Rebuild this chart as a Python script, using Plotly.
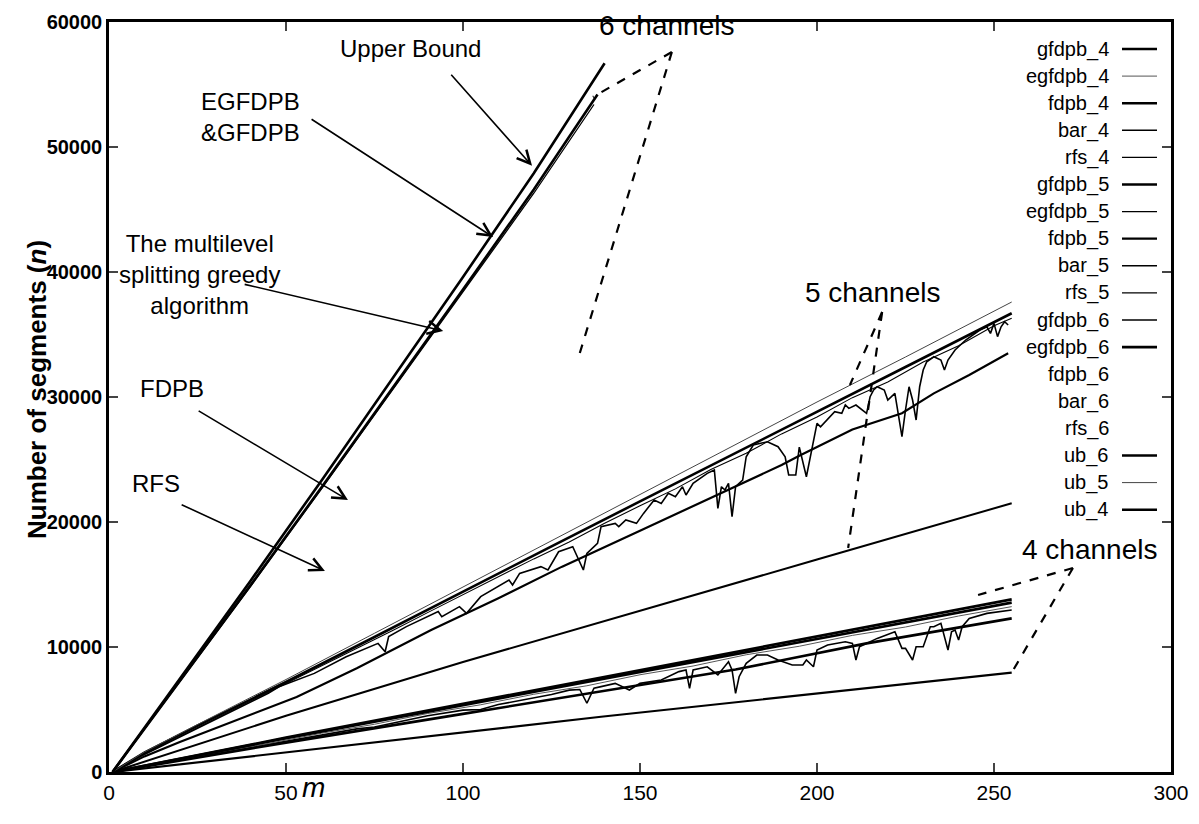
import plotly.graph_objects as go

# ---------------- data ----------------
# 6 channels
ub_6_m = [1, 20, 40, 60, 80, 100, 120, 140]
ub_6_n = [0, 7500, 15300, 23300, 31400, 39600, 47900, 56700]
egfdpb_6_m = [1, 20, 40, 60, 80, 100, 120, 138]
egfdpb_6_n = [0, 7300, 14950, 22750, 30650, 38600, 46600, 54200]
gfdpb_6_m = [1, 20, 40, 60, 80, 100, 120, 137]
gfdpb_6_n = [0, 7250, 14850, 22650, 30500, 38450, 46300, 53400]

# 5 channels
ub_5_m = [1, 10, 25, 50, 75, 100, 125, 150, 175, 200, 225, 255]
ub_5_n = [0, 1600, 3800, 7400, 11100, 14800, 18500, 22200, 25900, 29600, 33200, 37600]
gfdpb_5_m = [1, 10, 25, 50, 75, 100, 125, 150, 175, 200, 225, 255]
gfdpb_5_n = [0, 1550, 3700, 7200, 10800, 14450, 18050, 21650, 25250, 28850, 32400, 36700]
egfdpb_5_m = [1, 10, 20, 30, 40, 50, 60, 70, 80, 90, 100, 110, 120, 130, 140,
              150, 160, 170, 180, 190, 200, 210, 220, 230, 240, 250, 255]
egfdpb_5_n = [0, 1450, 2850, 4250, 5700, 7050, 8450, 9900, 11300, 12750, 14200, 15600, 17050,
              18400, 19900, 21300, 22650, 24200, 25500, 27050, 28400, 29950, 31200, 32800,
              34100, 35700, 36300]
bar_5_m = [1, 5, 10, 15, 20, 25, 30, 35, 40, 45,
           48, 58, 67, 76, 78, 79, 84, 93, 94, 99,
           101, 105, 113, 114, 116, 122, 124, 127, 131, 134,
           135, 138, 139, 143, 144, 146, 149, 151, 154, 156,
           158, 160, 162, 163, 165, 169, 171, 172, 173, 174,
           175, 176, 177, 179, 180, 182, 186, 189, 191, 192,
           194, 195, 197, 200, 201, 205, 207, 208, 209, 211,
           214, 215, 216, 217, 219, 220, 222, 224, 225, 226,
           227, 228, 229, 230, 231, 233, 235, 236, 237, 239,
           242, 246, 248, 249, 250, 251, 252, 253, 254]
bar_5_n = [0, 700, 1400, 2100, 2800, 3500, 4200, 4900, 5600, 6300,
           6820, 7890, 9220, 10290, 9620, 10830, 11630, 12830, 12430, 13230,
           12690, 14030, 15360, 14960, 15890, 16430, 16160, 17620, 18030, 16160,
           17490, 18290, 19630, 19890, 19630, 20160, 19890, 20690, 21760, 21490,
           22290, 22020, 22820, 22160, 23090, 23890, 24160, 21090, 22820, 22560,
           23090, 20420, 22820, 23360, 25220, 26160, 26420, 26020, 25220, 23760,
           23760, 25990, 23620, 27890, 27620, 28820, 28690, 29360, 29090, 29360,
           28690, 30020, 30560, 30820, 30560, 29760, 30290, 26830, 28960, 30820,
           29760, 28160, 30820, 32160, 32820, 33220, 32960, 32160, 32960, 33760,
           34560, 35360, 35620, 35090, 35890, 34830, 35620, 36020, 35760]
fdpb_5_m = [1, 10, 20, 30, 40, 53, 70, 91, 110, 128, 150, 170, 190, 195, 210, 224, 233, 243, 254]
fdpb_5_n = [0, 1250, 2400, 3500, 4600, 6000, 8300, 11360, 13900, 16430, 19300, 21900,
            24560, 25300, 27400, 28700, 30290, 31760, 33500]
rfs_5_m = [1, 50, 100, 139, 200, 255]
rfs_5_n = [0, 4500, 8800, 12020, 17000, 21500]

# 4 channels
ub_4_m = [1, 50, 100, 150, 200, 255]
ub_4_n = [0, 2750, 5450, 8150, 10850, 13810]
gfdpb_4_m = [1, 50, 100, 150, 200, 255]
gfdpb_4_n = [0, 2700, 5350, 8000, 10650, 13550]
egfdpb_4_m = [1, 15, 30, 45, 60, 75, 90, 105, 120, 135, 150, 165, 180, 195, 210, 225, 240, 255]
egfdpb_4_n = [0, 740, 1550, 2280, 3100, 3820, 4680, 5380, 6220, 6900, 7780, 8480, 9380,
              10060, 10930, 11600, 12480, 13230]
fdpb_4_m = [1, 20, 50, 100, 139, 177, 214, 255]
fdpb_4_n = [0, 900, 2350, 4650, 6420, 8200, 10290, 12290]
bar_4_m = [1, 10, 20, 30, 40, 50, 60, 70, 75, 80,
           90, 100, 105, 110, 120, 125, 130, 133, 135, 137,
           139, 143, 147, 150, 156, 161, 163, 164, 165, 169,
           172, 175, 176, 177, 178, 180, 183, 186, 189, 193,
           196, 197, 199, 200, 203, 208, 210, 211, 212, 217,
           222, 224, 225, 227, 228, 230, 232, 233, 235, 237,
           238, 239, 240, 241, 243, 248, 255]
bar_4_n = [0, 480, 1000, 1480, 1950, 2450, 2950, 3450, 3600, 3900,
           4500, 4950, 5000, 5400, 5950, 6200, 6550, 6600, 5500, 6700,
           6830, 7090, 6560, 7090, 7360, 8030, 8160, 6690, 8160, 8420,
           7760, 8820, 8160, 6290, 7620, 8690, 9360, 9360, 8960, 8560,
           8560, 8960, 8420, 9760, 10160, 10420, 10290, 8960, 10020, 10690,
           11220, 9890, 9890, 8960, 10020, 10020, 11620, 11620, 11890, 9760,
           11220, 11360, 10560, 11620, 12290, 12690, 12960]
rfs_4_m = [1, 139, 255]
rfs_4_n = [0, 4420, 7950]

legend_names = ["gfdpb_4", "egfdpb_4", "fdpb_4", "bar_4", "rfs_4",
                "gfdpb_5", "egfdpb_5", "fdpb_5", "bar_5", "rfs_5",
                "gfdpb_6", "egfdpb_6", "fdpb_6", "bar_6", "rfs_6",
                "ub_6", "ub_5", "ub_4"]

x_ticks = [0, 50, 100, 150, 200, 250, 300]
y_ticks = [0, 10000, 20000, 30000, 40000, 50000, 60000]

# ---------------- styles ----------------
W = {"gfdpb_4": 2.6, "egfdpb_4": 1.0, "fdpb_4": 2.6, "bar_4": 1.6, "rfs_4": 1.2,
     "gfdpb_5": 2.6, "egfdpb_5": 1.1, "fdpb_5": 2.2, "bar_5": 1.6, "rfs_5": 1.2,
     "gfdpb_6": 1.3, "egfdpb_6": 2.6, "fdpb_6": 0, "bar_6": 0, "rfs_6": 0,
     "ub_6": 2.6, "ub_5": 1.0, "ub_4": 2.6}
PLOT_W = dict(W)
PLOT_W["rfs_4"] = 2.2
PLOT_W["rfs_5"] = 2.0
C = {k: "black" for k in W}
C["egfdpb_4"] = "#555555"
C["ub_5"] = "#444444"

series = [
    ("rfs_4", rfs_4_m, rfs_4_n), ("fdpb_4", fdpb_4_m, fdpb_4_n), ("bar_4", bar_4_m, bar_4_n),
    ("egfdpb_4", egfdpb_4_m, egfdpb_4_n), ("gfdpb_4", gfdpb_4_m, gfdpb_4_n), ("ub_4", ub_4_m, ub_4_n),
    ("rfs_5", rfs_5_m, rfs_5_n), ("fdpb_5", fdpb_5_m, fdpb_5_n), ("bar_5", bar_5_m, bar_5_n),
    ("egfdpb_5", egfdpb_5_m, egfdpb_5_n), ("gfdpb_5", gfdpb_5_m, gfdpb_5_n), ("ub_5", ub_5_m, ub_5_n),
    ("gfdpb_6", gfdpb_6_m, gfdpb_6_n), ("egfdpb_6", egfdpb_6_m, egfdpb_6_n), ("ub_6", ub_6_m, ub_6_n),
]

FONT = "Liberation Sans, Arial, sans-serif"

fig = go.Figure()
for name, m, n in series:
    fig.add_trace(go.Scatter(x=m, y=n, mode="lines", name=name, showlegend=False,
                             line=dict(color=C[name], width=PLOT_W[name])))

# ---------------- layout ----------------
# page has an 8px body margin; figure is sized to fit inside it
OFF = 8
FW, FH = 1183, 808
L, T = 109 - OFF, 22 - OFF
R = FW - (1171 - OFF)
B = FH - (772 - OFF)
PW, PH = FW - L - R, FH - T - B


def px(xp):
    return (xp - OFF - L) / PW


def py(yp):
    return (FH - B - (yp - OFF)) / PH


fig.update_layout(
    width=FW, height=FH,
    margin=dict(l=L, r=R, t=T, b=B, pad=0, autoexpand=False),
    paper_bgcolor="white", plot_bgcolor="white",
    font=dict(family=FONT, color="black", size=18),
    xaxis=dict(range=[0, 300], tickvals=x_ticks, ticktext=[str(v) for v in x_ticks],
               ticks="inside", ticklen=9, tickwidth=2,
               showline=True, linewidth=2.5, linecolor="black", mirror="ticks",
               showgrid=False, zeroline=False, tickfont=dict(size=21, family=FONT)),
    yaxis=dict(range=[0, 60000], tickvals=y_ticks,
               ticktext=["<b>%d</b>" % v for v in y_ticks],
               ticks="inside", ticklen=9, tickwidth=2,
               showline=True, linewidth=2.5, linecolor="black", mirror="ticks",
               showgrid=False, zeroline=False, tickfont=dict(size=20, family=FONT)),
)

ann = []
# axis titles
ann.append(dict(xref="paper", yref="paper", x=px(300), y=py(805), text="<i>m</i>",
                showarrow=False, font=dict(size=28, family=FONT)))
ann.append(dict(xref="paper", yref="paper", x=px(20), y=py(390), textangle=-90,
                text="<b>Number of segments (<i>n</i>)</b>", showarrow=False,
                font=dict(size=26, family=FONT)))

# text labels
labels = [
    ("Upper Bound", 85.3, 57900, "center"),
    ("EGFDPB<br>&GFDPB", 40.1, 52400, "left"),
    ("The multilevel<br>splitting greedy<br>algorithm", 25.7, 39840, "center"),
    ("FDPB", 17.8, 30720, "center"),
    ("RFS", 13.3, 23120, "center"),
]
for t, x, y, al in labels:
    ann.append(dict(x=x, y=y, text=t, showarrow=False, align=al,
                    font=dict(size=24, family=FONT)))
for t, x, y in [("6 channels", 157.6, 59760), ("5 channels", 215.8, 38400), ("4 channels", 277.1, 17840)]:
    ann.append(dict(x=x, y=y, text=t, showarrow=False, font=dict(size=28, family=FONT)))

# arrows (tail -> tip)
arrows = [
    (96.3, 55900, 119.5, 48500),
    (56.8, 52300, 108.5, 42800),
    (37.9, 39040, 94.4, 35280),
    (24.9, 28960, 67.5, 21760),
    (20.1, 21440, 61.0, 16080),
]
for ax, ay, x, y in arrows:
    ann.append(dict(x=x, y=y, ax=ax, ay=ay, axref="x", ayref="y", text="",
                    showarrow=True, arrowhead=5, arrowsize=1.6, arrowwidth=1.6,
                    arrowcolor="black"))

# legend (text left, sample right)
shapes = []
for i, name in enumerate(legend_names):
    yrow = 49 + 27.1 * i
    ann.append(dict(xref="paper", yref="paper", x=px(1111), y=py(yrow), xanchor="right",
                    yanchor="middle", text=name, showarrow=False,
                    font=dict(size=20, family=FONT)))
    if W[name] > 0:
        shapes.append(dict(type="line", xref="paper", yref="paper",
                           x0=px(1122), x1=px(1157), y0=py(yrow), y1=py(yrow),
                           line=dict(color=C[name], width=W[name])))

# dashed channel pointers
dashed = [
    (159.0, 57600, 136.7, 54000), (159.0, 57600, 133.0, 33520),
    (218.4, 36800, 209.3, 30960), (218.4, 36800, 208.8, 17920),
    (272.3, 16320, 245.5, 14160), (272.3, 16320, 255.1, 8000),
]
for x0, y0, x1, y1 in dashed:
    shapes.append(dict(type="line", xref="x", yref="y", x0=x0, y0=y0, x1=x1, y1=y1,
                       line=dict(color="black", width=2.2, dash="dash")))

fig.update_layout(annotations=ann, shapes=shapes)
fig.write_html("out.html")
